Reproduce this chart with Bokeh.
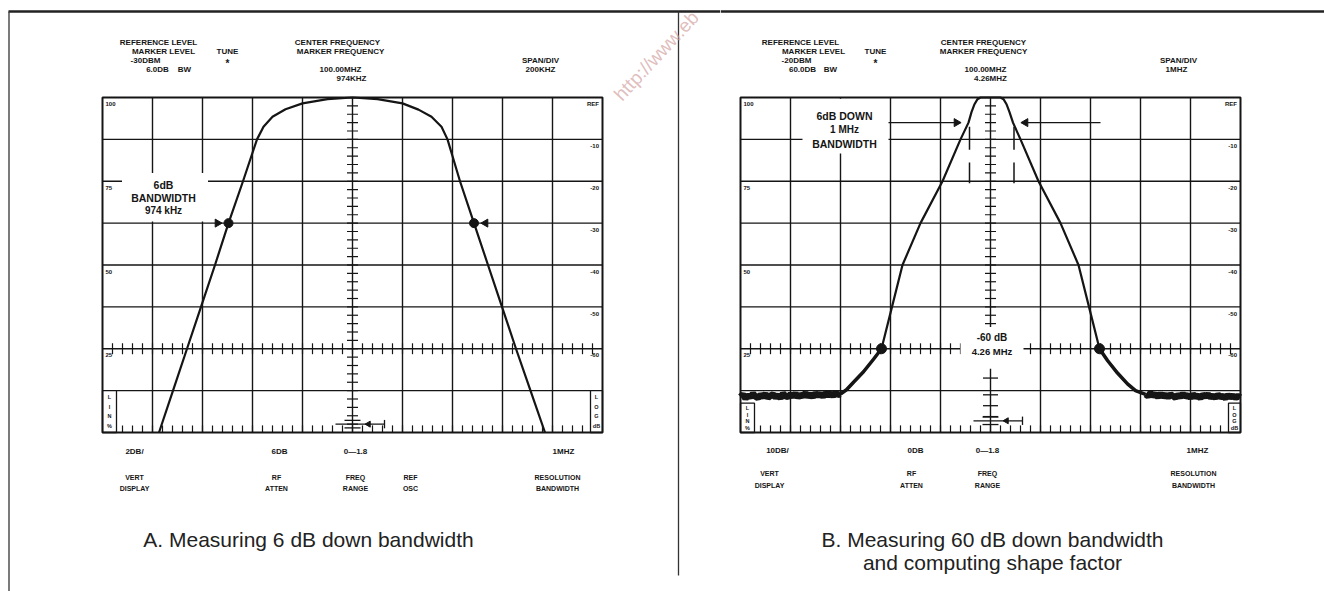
from bokeh.plotting import figure
from bokeh.models import Range1d
from bokeh.layouts import row
from bokeh.core.properties import value
from bokeh.embed import file_html
from bokeh.resources import INLINE

# ---------------- data (x in graticule divisions, y in screen dB) ----------------
GRID_X = [1, 2, 3, 4, 5, 6, 7, 8, 9]
GRID_Y = [-10, -20, -30, -40, -50, -60, -70]
LOG_LABELS = ["REF", "-10", "-20", "-30", "-40", "-50", "-60", "-70"]
LOG_LABEL_Y = [0, -10, -20, -30, -40, -50, -60, -70]
LIN_LABELS = ["100", "75", "50", "25"]
LIN_LABEL_Y = [0, -20, -40, -60]

# Panel A trace (6 dB down bandwidth)
a_x = [1.13, 1.41, 1.69, 1.97, 2.25, 2.52, 2.81, 3.09, 3.22, 3.40, 3.66, 4.00, 4.50,
       5.00, 5.50, 6.00, 6.32, 6.58, 6.78, 6.90, 7.15, 7.43, 7.71, 7.99, 8.27, 8.56, 8.85]
a_y = [-80, -70, -60, -50, -40, -30, -20, -10, -7.0, -4.6, -2.8, -1.4, -0.4,
       0, -0.4, -1.4, -2.9, -4.6, -7.0, -10, -20, -30, -40, -50, -60, -70, -80]
a_mark_x = [2.52, 7.43]
a_mark_y = [-30, -30]

# Panel B trace (60 dB down bandwidth)
b_x = [2.00, 2.12, 2.26, 2.46, 2.66, 2.82, 3.03, 3.24, 3.60, 4.04, 4.40, 4.56, 4.62,
       4.68, 4.74, 4.80, 5.20, 5.26, 5.32, 5.38, 5.45, 5.60, 5.96, 6.40, 6.76, 6.97,
       7.18, 7.34, 7.54, 7.74, 7.90, 8.10]
b_y = [-70.8, -69.8, -68.0, -65.5, -62.5, -60, -50, -40, -30, -20, -10, -6, -3.5,
       -1.6, -0.4, 0, 0, -0.4, -1.6, -3.5, -6, -10, -20, -30, -40, -50,
       -60, -62.8, -65.8, -68.4, -70.0, -70.9]
b_floor_l_x = [0.00, 0.05, 0.10, 0.15, 0.20, 0.25, 0.30, 0.35, 0.40, 0.45, 0.50, 0.55,
               0.60, 0.65, 0.70, 0.75, 0.80, 0.85, 0.90, 0.95, 1.00, 1.05, 1.10, 1.15,
               1.20, 1.25, 1.30, 1.35, 1.40, 1.45, 1.50, 1.55, 1.60, 1.65, 1.70, 1.75,
               1.80, 1.85, 1.90, 1.95, 2.00]
b_floor_l_y = [-71.5, -70.9, -71.9, -71.1, -71.6, -70.7, -71.4, -71.8, -71.0, -71.5,
               -70.8, -71.7, -71.2, -70.9, -71.6, -71.1, -71.8, -70.7, -71.3, -71.5,
               -70.9, -71.4, -70.7, -71.6, -71.0, -71.3, -70.6, -71.4, -70.9, -71.5,
               -70.7, -71.2, -70.8, -71.4, -70.6, -71.1, -70.7, -71.3, -70.5, -71.0, -70.8]
b_floor_r_x = [8.10, 8.15, 8.20, 8.25, 8.30, 8.35, 8.40, 8.45, 8.50, 8.55, 8.60, 8.65,
               8.70, 8.75, 8.80, 8.85, 8.90, 8.95, 9.00, 9.05, 9.10, 9.15, 9.20, 9.25,
               9.30, 9.35, 9.40, 9.45, 9.50, 9.55, 9.60, 9.65, 9.70, 9.75, 9.80, 9.85,
               9.90, 9.95, 10.00]
b_floor_r_y = [-70.9, -71.3, -70.6, -71.2, -70.9, -71.5, -70.8, -71.4, -71.0, -71.6,
               -70.9, -71.3, -71.7, -71.0, -71.5, -70.8, -71.4, -71.1, -71.7, -70.9,
               -71.5, -71.2, -71.8, -71.0, -71.4, -70.9, -71.6, -71.2, -71.7, -71.0,
               -71.5, -71.3, -71.8, -71.1, -71.6, -71.2, -71.7, -71.3, -71.6]
b_mark_x = [2.82, 7.18]
b_mark_y = [-60, -60]
b_cursor_x = [4.58, 5.47]

INK = "#151515"
SMALL = value("Liberation Sans")
PX_DIV = 50.0          # screen pixels per graticule division
PX_DB = 4.1875         # screen pixels per screen-dB
A_LEFT, B_LEFT, TOP = 102, 740, 97   # graticule corners in page pixels
H = 591
Y0, Y1 = (TOP - H) / PX_DB, TOP / PX_DB
HDR = "8px"


def make_fig(w, x0, x1):
    p = figure(width=w, height=H, x_range=Range1d(x0, x1), y_range=Range1d(Y0, Y1),
               output_backend="svg", toolbar_location=None,
               x_axis_location=None, y_axis_location=None, min_border=0)
    p.outline_line_color = None
    p.xgrid.visible = False
    p.ygrid.visible = False
    p.background_fill_color = "white"
    p.border_fill_color = "white"
    return p


def T(p, x, y, s, size=HDR, bold=True, align="center", color=INK, font=SMALL,
      angle=0.0, alpha=1.0, baseline="middle"):
    p.text(x=[x], y=[y], text=[s], text_font=font, text_font_size=size,
           text_font_style="bold" if bold else "normal", text_align=align,
           text_baseline=baseline, text_color=color, angle=angle, text_alpha=alpha)


def graticule(p, gap=None, center_top_only=False):
    p.segment(x0=GRID_X, y0=[0] * len(GRID_X), x1=GRID_X, y1=[-80] * len(GRID_X),
              line_color=INK, line_width=1.4)
    p.segment(x0=[0] * len(GRID_Y), y0=GRID_Y, x1=[10] * len(GRID_Y), y1=GRID_Y,
              line_color=INK, line_width=1.4)
    bx = [i * 0.2 for i in range(1, 50)]
    p.segment(x0=bx, y0=[-80] * len(bx), x1=bx, y1=[-78.3] * len(bx), line_color=INK, line_width=1.2)
    tx = [x for x in bx if gap is None or not (gap[0] < x < gap[1])]
    p.segment(x0=tx, y0=[-61.3] * len(tx), x1=tx, y1=[-58.7] * len(tx), line_color=INK, line_width=1.2)
    cy = [-2 * i for i in range(1, 28 if center_top_only else 40)]
    p.segment(x0=[4.89] * len(cy), y0=cy, x1=[5.11] * len(cy), y1=cy, line_color=INK, line_width=1.2)


def frame_box(p):
    p.quad(left=[0], right=[10], top=[0], bottom=[-80], fill_color=None, line_color=INK, line_width=2)


def side_labels(p, lin_top=-70):
    for s, yy in zip(LOG_LABELS, LOG_LABEL_Y):
        T(p, 9.93, yy - 1.6, s, size="6px", align="right")
    for s, yy in zip(LIN_LABELS, LIN_LABEL_Y):
        T(p, 0.06, yy - 1.6, s, size="6px", align="left")
    p.quad(left=[0], right=[0.28], top=[lin_top], bottom=[-80], fill_color="white", line_color=INK, line_width=1.3)
    p.quad(left=[9.76], right=[10], top=[lin_top], bottom=[-80], fill_color="white", line_color=INK, line_width=1.3)
    step = (-80 - lin_top) / 4.4
    for i, ch in enumerate(["L", "I", "N", "%"]):
        T(p, 0.14, lin_top + step * (i + 0.7), ch, size="5.5px")
    for i, ch in enumerate(["L", "O", "G", "dB"]):
        T(p, 9.88, lin_top + step * (i + 0.7), ch, size="5.5px")


def freq_marker(p, y):
    p.segment(x0=[4.66], y0=[y], x1=[5.64], y1=[y], line_color=INK, line_width=1.3)
    p.segment(x0=[4.84, 4.84], y0=[y + 0.9, y - 0.9], x1=[5.16, 5.16], y1=[y + 0.9, y - 0.9],
              line_color=INK, line_width=1.3)
    p.scatter(x=[5.32], y=[y], marker="triangle", angle=1.5708, size=6, color=INK)
    p.segment(x0=[5.64], y0=[y - 1.0], x1=[5.64], y1=[y + 1.0], line_color=INK, line_width=1.3)


def db(py):
    return (TOP - py) / PX_DB


def ax(px):
    return (px - A_LEFT) / PX_DIV


def bxp(px):
    return (px - B_LEFT) / PX_DIV


SPLIT = 720
CAP = "21px"
# ================= Panel A =================
pa = make_fig(SPLIT, ax(0), ax(SPLIT))
pa.segment(x0=[ax(8)], y0=[db(11)], x1=[ax(SPLIT)], y1=[db(11)], line_color="#222", line_width=2.5)
pa.segment(x0=[ax(8.5)], y0=[db(11)], x1=[ax(8.5)], y1=[Y0], line_color="#333", line_width=1.3)
pa.segment(x0=[ax(678)], y0=[db(11)], x1=[ax(678)], y1=[db(575)], line_color="#333", line_width=1.3)

graticule(pa)
pa.quad(left=[0.39], right=[2.11], top=[-18], bottom=[-29.6], fill_color="white", line_color=None)
side_labels(pa)
freq_marker(pa, -78.0)
frame_box(pa)

pa.line(a_x, a_y, line_color=INK, line_width=2.2)
pa.scatter(a_mark_x, a_mark_y, size=9, color=INK)
pa.scatter(x=[2.30], y=[-30], marker="triangle", angle=-1.5708, size=8, color=INK)
pa.scatter(x=[7.66], y=[-30], marker="triangle", angle=1.5708, size=8, color=INK)

T(pa, 1.22, -20.8, "6dB", size="10.5px")
T(pa, 1.22, -24.0, "BANDWIDTH", size="10.5px")
T(pa, 1.22, -27.0, "974 kHz", size="10px")

rA = [db(42), db(51), db(60), db(69)]
cA = [db(42), db(51), db(69), db(78)]
T(pa, 1.12, rA[0], "REFERENCE LEVEL")
T(pa, 1.22, rA[1], "MARKER LEVEL")
T(pa, 0.86, rA[2], "-30DBM")
T(pa, 1.10, rA[3], "6.0DB")
T(pa, 1.64, rA[3], "BW")
T(pa, 2.50, rA[1], "TUNE")
T(pa, 2.50, db(63), "*", size="10px")
T(pa, 4.70, cA[0], "CENTER FREQUENCY")
T(pa, 4.76, cA[1], "MARKER FREQUENCY")
T(pa, 4.76, cA[2], "100.00MHZ")
T(pa, 4.98, cA[3], "974KHZ")
T(pa, 8.76, rA[2], "SPAN/DIV")
T(pa, 8.76, rA[3], "200KHZ")

bA1, bA2, bA3 = db(451), db(477), db(488)
T(pa, 0.64, bA1, "2DB/")
T(pa, 3.54, bA1, "6DB")
T(pa, 5.06, bA1, "0—1.8")
T(pa, 9.22, bA1, "1MHZ")
for x, s1, s2 in [(0.64, "VERT", "DISPLAY"), (3.48, "RF", "ATTEN"), (5.06, "FREQ", "RANGE"),
                  (6.16, "REF", "OSC"), (9.10, "RESOLUTION", "BANDWIDTH")]:
    T(pa, x, bA2, s1, size="7px")
    T(pa, x, bA3, s2, size="7px")

T(pa, ax(308), db(539), "A. Measuring 6 dB down bandwidth", size=CAP, bold=False, color="#222")
T(pa, ax(617), db(97), "http://www.eb", size="19px", bold=False, align="left",
  color="#d2a2a2", angle=0.82, alpha=0.7)

# ================= Panel B =================
pb = make_fig(1324 - SPLIT, bxp(SPLIT), bxp(1324))
pb.segment(x0=[bxp(SPLIT)], y0=[db(11)], x1=[bxp(1324)], y1=[db(11)], line_color="#222", line_width=2.5)

graticule(pb, gap=(4.4, 5.66), center_top_only=True)
pb.segment(x0=[4.85, 4.85, 4.85, 4.85], y0=[-67, -71, -73.6, -76.2], x1=[5.15, 5.15, 5.15, 5.15],
           y1=[-67, -71, -73.6, -76.2], line_color=INK, line_width=1.3)
pb.quad(left=[1.24], right=[2.96], top=[-0.3], bottom=[-13.4], fill_color="white", line_color=None)
pb.quad(left=[4.4], right=[5.66], top=[-54.8], bottom=[-64.8], fill_color="white", line_color=None)
side_labels(pb, lin_top=-73)
freq_marker(pb, -77.2)
frame_box(pb)

pb.line(b_floor_l_x, b_floor_l_y, line_color=INK, line_width=6.5)
pb.line(b_floor_r_x, b_floor_r_y, line_color=INK, line_width=6.5)
pb.line(b_x, b_y, line_color=INK, line_width=2.2)
pb.line(b_x[:6], b_y[:6], line_color=INK, line_width=3.5)
pb.line(b_x[-6:], b_y[-6:], line_color=INK, line_width=3.5)
pb.scatter(b_mark_x, b_mark_y, size=10, color=INK)

pb.segment(x0=b_cursor_x + b_cursor_x, y0=[-7, -7, -15.5, -15.5], x1=b_cursor_x + b_cursor_x,
           y1=[-12.5, -12.5, -20.5, -20.5], line_color=INK, line_width=1.5)
pb.segment(x0=[2.96, 7.20], y0=[-6, -6], x1=[4.36, 5.66], y1=[-6, -6], line_color=INK, line_width=1.3)
pb.scatter(x=[4.32], y=[-6], marker="triangle", angle=-1.5708, size=8, color=INK)
pb.scatter(x=[5.70], y=[-6], marker="triangle", angle=1.5708, size=8, color=INK)

T(pb, 2.08, -4.3, "6dB DOWN", size="10.5px")
T(pb, 2.08, -7.6, "1 MHz", size="10px")
T(pb, 2.08, -11.2, "BANDWIDTH", size="10.5px")
T(pb, 5.03, -57.3, "-60 dB", size="10px")
T(pb, 5.03, -60.6, "4.26 MHz", size="9.5px")

T(pb, 1.20, rA[0], "REFERENCE LEVEL")
T(pb, 1.46, rA[1], "MARKER LEVEL")
T(pb, 1.12, rA[2], "-20DBM")
T(pb, 1.24, rA[3], "60.0DB")
T(pb, 1.80, rA[3], "BW")
T(pb, 2.70, rA[1], "TUNE")
T(pb, 2.70, db(63), "*", size="10px")
T(pb, 4.86, cA[0], "CENTER FREQUENCY")
T(pb, 4.86, cA[1], "MARKER FREQUENCY")
T(pb, 4.90, cA[2], "100.00MHZ")
T(pb, 5.00, cA[3], "4.26MHZ")
T(pb, 8.76, rA[2], "SPAN/DIV")
T(pb, 8.72, rA[3], "1MHZ")

bB1, bB2, bB3 = db(450), db(473), db(485)
T(pb, 0.74, bB1, "10DB/")
T(pb, 3.50, bB1, "0DB")
T(pb, 4.94, bB1, "0—1.8")
T(pb, 9.14, bB1, "1MHZ")
for x, s1, s2 in [(0.58, "VERT", "DISPLAY"), (3.42, "RF", "ATTEN"), (4.94, "FREQ", "RANGE"),
                  (9.06, "RESOLUTION", "BANDWIDTH")]:
    T(pb, x, bB2, s1, size="7px")
    T(pb, x, bB3, s2, size="7px")

T(pb, bxp(992), db(539), "B. Measuring 60 dB down bandwidth", size=CAP, bold=False, color="#222")
T(pb, bxp(992), db(562), "and computing shape factor", size=CAP, bold=False, color="#222")

layout = row(pa, pb)
open("out.html", "w").write(file_html(layout, INLINE))
